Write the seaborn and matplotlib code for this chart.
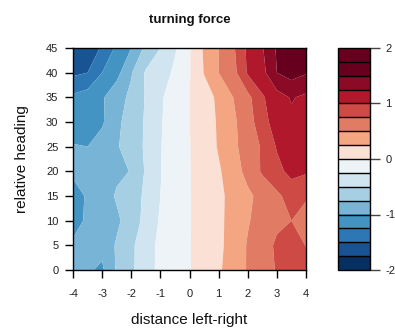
import numpy as np
import matplotlib
matplotlib.use("Agg")
import matplotlib.pyplot as plt
import seaborn as sns

# ---- data ----
x_values = [-4, -3.5, -3, -2.5, -2, -1.5, -1, -0.5, 0, 0.5, 1, 1.5, 2, 2.5, 3, 3.5, 4]
y_values = [0, 5, 10, 15, 20, 25, 30, 35, 40, 45]

z_y0 = [-0.93, -0.97, -1.04, -0.72, -0.55, -0.33, -0.20, -0.10, -0.01, 0.10, 0.22, 0.35, 0.52, 0.63, 0.77, 0.88, 0.90]
z_y5 = [-0.97, -0.92, -0.93, -0.72, -0.55, -0.34, -0.20, -0.10, -0.01, 0.09, 0.20, 0.34, 0.52, 0.64, 0.79, 0.90, 0.74]
z_y10 = [-1.07, -0.97, -0.90, -0.80, -0.62, -0.43, -0.22, -0.11, -0.01, 0.08, 0.20, 0.33, 0.48, 0.60, 0.70, 0.75, 0.68]
z_y15 = [-1.07, -0.98, -0.88, -0.72, -0.60, -0.46, -0.25, -0.12, -0.01, 0.08, 0.20, 0.32, 0.45, 0.58, 0.70, 0.85, 0.77]
z_y20 = [-0.97, -0.90, -0.85, -0.80, -0.74, -0.47, -0.26, -0.12, -0.01, 0.10, 0.22, 0.38, 0.58, 0.78, 0.93, 1.07, 1.03]
z_y25 = [-0.98, -1.00, -0.90, -0.77, -0.65, -0.46, -0.26, -0.13, -0.01, 0.12, 0.27, 0.45, 0.60, 0.78, 1.02, 1.15, 1.15]
z_y30 = [-1.15, -1.12, -1.03, -0.80, -0.65, -0.47, -0.27, -0.13, 0.00, 0.12, 0.28, 0.46, 0.62, 0.92, 1.10, 1.20, 1.15]
z_y35 = [-1.20, -1.13, -1.03, -0.84, -0.70, -0.48, -0.28, -0.14, 0.00, 0.14, 0.30, 0.50, 0.68, 0.97, 1.15, 1.27, 1.20]
z_y40 = [-1.55, -1.50, -1.25, -1.08, -0.77, -0.47, -0.38, -0.20, -0.02, 0.26, 0.50, 0.66, 1.03, 1.17, 1.50, 1.60, 1.52]
z_y45 = [-1.70, -1.60, -1.48, -1.20, -1.00, -0.69, -0.50, -0.28, -0.02, 0.28, 0.50, 0.71, 1.05, 1.23, 1.53, 1.62, 1.70]

levels = [-2, -1.75, -1.5, -1.25, -1, -0.75, -0.5, -0.25, 0, 0.25, 0.5, 0.75, 1, 1.25, 1.5, 1.75, 2]
level_colors = ["#053061", "#185393", "#2e77b5", "#4393c3", "#78b4d6", "#a7cfe4", "#d1e5f0", "#edf3f7",
                "#fbe0d6", "#f4a582", "#e27b63", "#cd4a45", "#b2182b", "#8b0a25", "#67001f", "#67001f"]

x_ticks = [-4, -3, -2, -1, 0, 1, 2, 3, 4]
y_ticks = [0, 5, 10, 15, 20, 25, 30, 35, 40, 45]
cbar_ticks = [-2, -1, 0, 1, 2]

title = "turning force"
x_label = "distance left-right"
y_label = "relative heading"

# ---- style ----
sns.set_style("ticks")
plt.rcParams['font.family'] = ['Liberation Sans', 'DejaVu Sans']

fig = plt.figure(figsize=(3.95, 3.28), dpi=100)
ax = fig.add_axes([73 / 395, 1 - 270 / 328, 233 / 395, 222 / 328])

Z = np.array([z_y0, z_y5, z_y10, z_y15, z_y20, z_y25, z_y30, z_y35, z_y40, z_y45])
cs = ax.contourf(x_values, y_values, Z, levels=levels, colors=level_colors, antialiased=True)

ax.set_xlim(-4, 4)
ax.set_ylim(0, 45)
ax.set_xticks(x_ticks)
ax.set_xticklabels([str(t) for t in x_ticks])
ax.set_yticks(y_ticks)
ax.set_yticklabels([str(t) for t in y_ticks])
ax.tick_params(axis='both', direction='out', length=5.5, width=1, color='black',
               labelsize=8, labelcolor='#222222')
ax.tick_params(axis='x', pad=8)
ax.tick_params(axis='y', pad=5)
for s in ax.spines.values():
    s.set_visible(True)
    s.set_color('black')
    s.set_linewidth(1)

ax.set_xlabel(x_label, fontsize=11, labelpad=10, color='#111111')
ax.set_ylabel(y_label, fontsize=11, labelpad=12, color='#111111')
ax.set_title(title, fontsize=9.5, fontweight='bold', pad=18, color='#111111')

cax = fig.add_axes([338 / 395, 1 - 270 / 328, 32 / 395, 222 / 328])
cb = fig.colorbar(cs, cax=cax, ticks=cbar_ticks, drawedges=True)
cb.dividers.set_color('black')
cb.dividers.set_linewidth(1)
cb.outline.set_edgecolor('black')
cb.outline.set_linewidth(1)
cb.ax.set_yticklabels([str(t) for t in cbar_ticks])
cb.ax.tick_params(direction='out', length=7, width=1, color='#444444', labelsize=8,
                  pad=4, labelcolor='#222222')

fig.savefig("out.png", dpi=100)
